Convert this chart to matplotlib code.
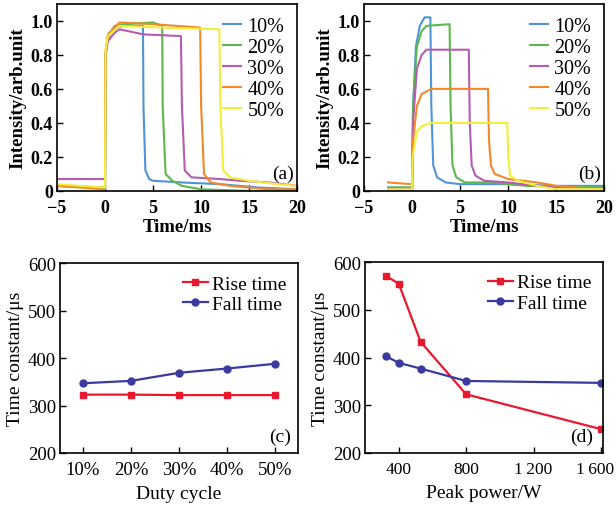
import matplotlib.pyplot as plt
import matplotlib.transforms as mtransforms
import numpy as np

plt.rcParams["font.family"] = ["Liberation Serif", "DejaVu Serif"]

LABELS = ["10%", "20%", "30%", "40%", "50%"]
TRACE_COLORS = ["#4f94d4", "#5cb84a", "#b45cb0", "#f2882a", "#f2ee3a"]
RED = "#e8182e"
NAVY = "#3a3aa0"

# panel (a): pulse traces, time (ms) / intensity
a_t = [
    [-5, 0, 0.05, 0.3, 1, 2, 3.95, 4.0, 4.2, 4.6, 5, 8, 12, 16, 20],
    [-5, 0, 0.05, 0.3, 1, 2, 5, 5.95, 6.0, 6.3, 7, 8, 10, 15, 20],
    [-5, 0, 0.05, 0.3, 1, 1.5, 4, 7.9, 8.0, 8.3, 9, 12, 14, 17, 20],
    [-5, 0, 0.05, 0.3, 1.5, 5, 9.9, 10.0, 10.3, 11, 13, 17, 20],
    [-5, 0, 0.05, 0.3, 1.5, 6, 11.9, 12.0, 12.3, 13, 15, 18, 20],
]
a_y = [
    [0.03, 0.02, 0.80, 0.90, 0.96, 0.97, 0.97, 0.50, 0.12, 0.07, 0.06, 0.05, 0.04, 0.02, 0.01],
    [0.03, 0.02, 0.80, 0.91, 0.97, 0.98, 0.99, 0.97, 0.50, 0.10, 0.06, 0.03, 0.01, 0.00, 0.00],
    [0.07, 0.07, 0.80, 0.88, 0.93, 0.95, 0.92, 0.91, 0.50, 0.12, 0.08, 0.07, 0.06, 0.05, 0.03],
    [0.03, 0.01, 0.82, 0.92, 0.99, 0.98, 0.96, 0.50, 0.10, 0.05, 0.03, 0.01, 0.01],
    [0.04, 0.02, 0.82, 0.91, 0.97, 0.96, 0.95, 0.50, 0.12, 0.08, 0.06, 0.04, 0.03],
]

# panel (b): pulse traces at different peak powers
b_t = [
    [-2.5, 0, 0.1, 0.4, 0.8, 1.3, 1.9, 2.0, 2.2, 2.6, 3.5, 5, 10, 15, 20],
    [-2.5, 0, 0.1, 0.5, 1.0, 1.5, 3.9, 4.0, 4.2, 4.6, 5.5, 8, 10, 12, 20],
    [-2.5, 0, 0.1, 0.5, 1.0, 1.5, 5.9, 6.0, 6.2, 6.6, 7.5, 10, 13, 20],
    [-2.5, 0, 0.1, 0.5, 1.0, 2.0, 6.0, 7.9, 8.0, 8.2, 8.6, 10, 13, 15, 17, 20],
    [-2.5, 0, 0.05, 0.5, 1.0, 2.0, 9.9, 10.0, 10.2, 11, 13, 15, 20],
]
b_y = [
    [0.02, 0.02, 0.50, 0.85, 0.97, 1.02, 1.02, 0.50, 0.15, 0.08, 0.05, 0.04, 0.04, 0.03, 0.03],
    [0.02, 0.02, 0.50, 0.85, 0.94, 0.97, 0.98, 0.50, 0.15, 0.08, 0.05, 0.05, 0.04, 0.03, 0.02],
    [0.01, 0.01, 0.40, 0.72, 0.80, 0.83, 0.83, 0.40, 0.15, 0.09, 0.06, 0.05, 0.03, 0.01],
    [0.05, 0.04, 0.30, 0.50, 0.57, 0.60, 0.60, 0.60, 0.30, 0.15, 0.10, 0.07, 0.05, 0.03, 0.02, 0.01],
    [0.01, 0.01, 0.20, 0.35, 0.38, 0.40, 0.40, 0.20, 0.09, 0.06, 0.03, 0.01, 0.01],
]

# panel (c): time constants vs duty cycle
duty = ["10%", "20%", "30%", "40%", "50%"]
c_rise = [323, 323, 322, 322, 322]
c_fall = [347, 352, 369, 378, 388]

# panel (d): time constants vs peak power
power = [325, 400, 530, 800, 1600]
d_rise = [571, 555, 433, 323, 250]
d_fall = [403, 389, 377, 351, 347]

fig = plt.figure(figsize=(6.16, 5.06), dpi=100)
ax_a = fig.add_axes([0.0925, 0.6206, 0.390, 0.370])
ax_b = fig.add_axes([0.591, 0.6206, 0.390, 0.370])
ax_c = fig.add_axes([0.0974, 0.1028, 0.386, 0.375])
ax_d = fig.add_axes([0.5925, 0.1028, 0.386, 0.377])


def style(ax, size, bold):
    for s in ax.spines.values():
        s.set_linewidth(1.2)
    ax.tick_params(direction="in", length=4, width=1, labelsize=size)
    ax.tick_params(axis="x", pad=6)
    ax.tick_params(axis="y", pad=3)
    if bold:
        for lab in ax.get_xticklabels() + ax.get_yticklabels():
            lab.set_fontweight("bold")


for ax, ts, ys, tag in [(ax_a, a_t, a_y, "(a)"), (ax_b, b_t, b_y, "(b)")]:
    for t, y, c, lab in zip(ts, ys, TRACE_COLORS, LABELS):
        ax.plot(t, y, color=c, lw=1.5, label=lab)
    ax.set_xlim(-5, 20)
    ax.set_ylim(0, 1.1)
    ax.set_xticks([-5, 0, 5, 10, 15, 20])
    ax.set_xticklabels(["\u22125", "0", "5", "10", "15", "20"])
    ax.set_yticks([0, 0.2, 0.4, 0.6, 0.8, 1.0])
    ax.set_yticklabels(["0", "0.2", "0.4", "0.6", "0.8", "1.0"])
    ax.set_xlabel("Time/ms", fontsize=13.5, fontweight="bold", labelpad=1)
    ax.set_ylabel("Intensity/arb.unit", fontsize=13.5, fontweight="bold", labelpad=3)
    style(ax, 13, True)
    ax.legend(loc="upper right", frameon=False, fontsize=14.5, handlelength=0.9,
              handletextpad=0.3, labelspacing=0.1, borderaxespad=0.25)
    ax.text(0.985, 0.05, tag, transform=ax.transAxes, ha="right", va="bottom", fontsize=14)

# (c)
xc = np.arange(len(duty))
ax_c.plot(xc, c_rise, color=RED, lw=1.6, marker="s", ms=5, label="Rise time")
ax_c.plot(xc, c_fall, color=NAVY, lw=1.6, marker="o", ms=5, label="Fall time")
ax_c.set_xticks(xc)
ax_c.set_xticklabels(duty)
ax_c.set_xlim(-0.48, 4.48)
ax_c.set_ylim(200, 600)
ax_c.set_yticks([200, 300, 400, 500, 600])
ax_c.set_xlabel("Duty cycle", fontsize=14, labelpad=5)
ax_c.set_ylabel("Time constant/\u03bcs", fontsize=14, labelpad=3)
style(ax_c, 13.5, False)
ax_c.legend(loc="upper right", frameon=False, fontsize=14, handlelength=1.3,
            handletextpad=0.2, labelspacing=0.15, borderaxespad=0.2)
ax_c.text(0.97, 0.04, "(c)", transform=ax_c.transAxes, ha="right", va="bottom", fontsize=14)

# (d)
ax_d.plot(power, d_rise, color=RED, lw=1.6, marker="s", ms=5, label="Rise time")
ax_d.plot(power, d_fall, color=NAVY, lw=1.6, marker="o", ms=5, label="Fall time")
ax_d.set_xlim(200, 1610)
ax_d.set_ylim(200, 600)
ax_d.set_xticks([400, 800, 1200, 1600])
ax_d.set_xticklabels(["400", "800", "1\u2009200", "1\u2009600"])
ax_d.set_yticks([200, 300, 400, 500, 600])
ax_d.set_xlabel("Peak power/W", fontsize=14, labelpad=5)
ax_d.set_ylabel("Time constant/\u03bcs", fontsize=14, labelpad=3)
style(ax_d, 13.5, False)
ax_d.tick_params(axis="x", labelsize=12.5)
# nudge the last tick label so it stays inside the canvas
last = ax_d.get_xticklabels()[-1]
last.set_transform(last.get_transform() + mtransforms.ScaledTranslation(-4 / 72, 0, fig.dpi_scale_trans))
ax_d.legend(loc="upper right", frameon=False, fontsize=14, handlelength=1.3,
            handletextpad=0.2, labelspacing=0.15, borderaxespad=0.2)
ax_d.text(0.96, 0.04, "(d)", transform=ax_d.transAxes, ha="right", va="bottom", fontsize=14)

fig.savefig("out.png", dpi=100)
